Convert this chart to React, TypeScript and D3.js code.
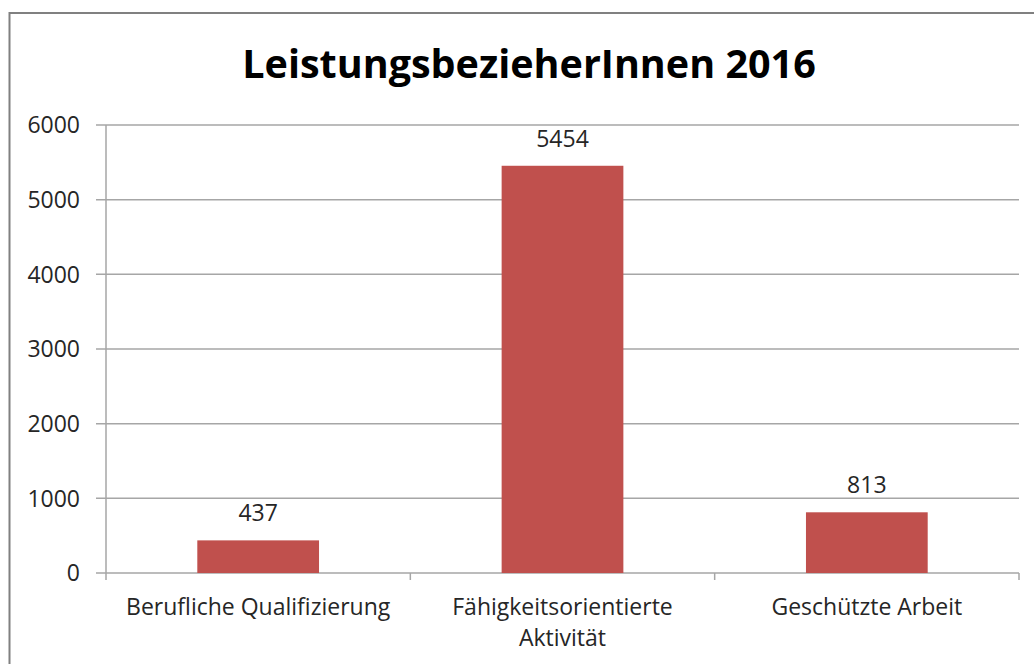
import React from "react";
import * as d3 from "d3";

const categories = ["Berufliche Qualifizierung", "Fähigkeitsorientierte Aktivität", "Geschützte Arbeit"];
const categoryLines = [["Berufliche Qualifizierung"], ["Fähigkeitsorientierte", "Aktivität"], ["Geschützte Arbeit"]];
const values = [437, 5454, 813];
const yTicks = [0, 1000, 2000, 3000, 4000, 5000, 6000];
const title = "LeistungsbezieherInnen 2016";

const FONT = "'Open Sans', sans-serif";

export default function App() {
  const W = 1034, H = 664;
  const x0 = 106, x1 = 1019, y0 = 573, y1 = 125;
  const x = d3.scaleBand<string>().domain(categories).range([x0, x1]).paddingInner(0.6).paddingOuter(0.3);
  const y = d3.scaleLinear().domain([0, 6000]).range([y0, y1]);
  const step = x.step();
  return (
    <svg width={W} height={H} style={{ position: "absolute", left: 0, top: 0, background: "#fff" }}>
      <rect x={9.5} y={13} width={1100} height={700} fill="#fff" stroke="#808080" strokeWidth={2} />
      <text x={529} y={78} textAnchor="middle" fontFamily={FONT} fontWeight="bold" fontSize={39.5} fill="#000">{title}</text>
      {yTicks.map((t) => (
        <g key={t}>
          <line x1={96} x2={x1} y1={y(t)} y2={y(t)} stroke="#a6a6a6" strokeWidth={1.5} />
          <text x={80} y={y(t)} dy="0.36em" textAnchor="end" fontFamily={FONT} fontSize={23} fill="#262626">{t}</text>
        </g>
      ))}
      <line x1={x0} x2={x0} y1={y1} y2={y0} stroke="#a6a6a6" strokeWidth={1.5} />
      {[0, 1, 2, 3].map((i) => (
        <line key={i} x1={x0 + i * step} x2={x0 + i * step} y1={y0} y2={y0 + 7} stroke="#a6a6a6" strokeWidth={1.5} />
      ))}
      {categories.map((c, i) => (
        <g key={c}>
          <rect x={x(c)} y={y(values[i])} width={x.bandwidth()} height={y0 - y(values[i])} fill="#c0504d" />
          <text x={(x(c) as number) + x.bandwidth() / 2} y={y(values[i]) - 19} textAnchor="middle" fontFamily={FONT} fontSize={23} fill="#262626">{values[i]}</text>
        </g>
      ))}
      {categories.map((c, i) => {
        const cx = (x(c) as number) + x.bandwidth() / 2;
        return categoryLines[i].map((l, j) => (
          <text key={c + j} x={cx} y={615 + j * 31} textAnchor="middle" fontFamily={FONT} fontSize={23} fill="#262626">{l}</text>
        ));
      })}
    </svg>
  );
}
